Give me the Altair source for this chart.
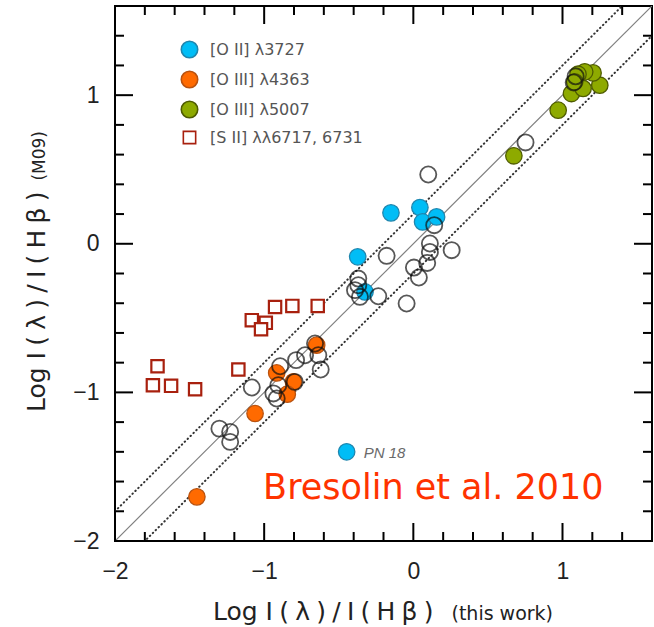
import altair as alt
import pandas as pd

# ---- emission-line ratios: Log I(lambda)/I(Hbeta), this work (x) vs M09 (y) ----
series_names = ["[O II] λ3727", "[O III] λ4363", "[O III] λ5007", "[S II] λλ6717, 6731"]

oii_x = [-0.150, 0.044, 0.062, 0.156, -0.373, -0.324, -0.447]
oii_y = [0.208, 0.244, 0.147, 0.181, -0.088, -0.324, -1.400]

oiii4363_x = [-0.648, -0.916, -0.804, -0.845, -1.061, -1.451]
oiii4363_y = [-0.682, -0.869, -0.929, -1.012, -1.142, -1.703]

oiii5007_x = [0.674, 0.971, 1.060, 1.138, 1.250, 1.205, 1.149, 1.104, 1.082]
oiii5007_y = [0.592, 0.899, 1.011, 1.045, 1.067, 1.150, 1.157, 1.141, 1.090]

sii_x = [-0.927, -0.811, -0.641, -1.083, -0.989, -1.021, -1.715, -1.173, -1.746, -1.624, -1.463]
sii_y = [-0.425, -0.418, -0.418, -0.514, -0.532, -0.575, -0.824, -0.846, -0.952, -0.956, -0.979]

# remaining lines (open circles)
other_x = [0.752, 0.100, 0.140, 0.111, 0.111, 0.093, 0.257, 0.004, 0.037, -0.179,
           -0.235, -0.045, -0.369, -0.369, -0.391, -0.358, -0.659, -0.637, -0.726, -0.786,
           -0.621, -0.893, -1.083, -0.905, -0.795, -0.938, -0.916, -1.300, -1.228, -1.228,
           1.088, 1.075]
other_y = [0.682, 0.466, 0.125, 0.002, -0.055, -0.129, -0.043, -0.160, -0.227, -0.081,
           -0.353, -0.402, -0.234, -0.279, -0.312, -0.357, -0.671, -0.750, -0.750, -0.783,
           -0.846, -0.824, -0.967, -0.952, -0.929, -1.007, -1.041, -1.244, -1.266, -1.333,
           1.127, 1.085]

# one-to-one relation and +/-0.2 dex band
line_offsets = [0.0, 0.2, -0.2]
line_styles = ["solid", "dotted", "dotted"]
line_ends = [-2.0, 1.6]

# labelled object and citation
note_x = [-0.447]
note_y = [-1.400]
note_text = ["PN 18"]
cite_x = [-1.007]
cite_y = [-1.72]
cite_text = ["Bresolin et al. 2010"]

# axis titles (quantity, then source in smaller type)
SP = "\u2005"  # four-per-em space for the wide plotter-style lettering
quantity = "Log  " + SP.join(list("I(λ)/I(Hβ)"))
x_source = "(this work)"
y_source = "(M09)"

# axis ticks
major_ticks = [-2, -1, 0, 1]
minor_ticks = [-1.8, -1.6, -1.4, -1.2, -0.8, -0.6, -0.4, -0.2,
               0.2, 0.4, 0.6, 0.8, 1.2, 1.4]

# ---- tables ----
rows = []
for name, xs_, ys_ in zip(series_names,
                          [oii_x, oiii4363_x, oiii5007_x, sii_x],
                          [oii_y, oiii4363_y, oiii5007_y, sii_y]):
    rows += [{"x": a, "y": b, "line": name} for a, b in zip(xs_, ys_)]
points = pd.DataFrame(rows)
others = pd.DataFrame({"x": other_x, "y": other_y})
lines = pd.DataFrame({
    "x": [line_ends[0]] * 3,
    "x2": [line_ends[1]] * 3,
    "y": [line_ends[0] + o for o in line_offsets],
    "y2": [line_ends[1] + o for o in line_offsets],
    "style": line_styles,
})
notes = pd.DataFrame({"x": note_x, "y": note_y, "t": note_text})
cite = pd.DataFrame({"x": cite_x, "y": cite_y, "t": cite_text})
majors = pd.DataFrame({"v": major_ticks})
minors = pd.DataFrame({"v": minor_ticks})

W, H = 537, 535
FONT = "Liberation Sans"
TFONT = "DejaVu Sans"
MAJ, MIN = 18, 9

xs = alt.Scale(domain=[-2, 1.6], nice=False, zero=False)
ys = alt.Scale(domain=[-2, 1.6], nice=False, zero=False)
xaxis = alt.Axis(values=major_ticks, ticks=False, domain=False, grid=False, title=None,
                 labelFont=FONT, labelFontSize=23, labelColor="#222", labelPadding=19,
                 labelFlush=False)
yaxis = alt.Axis(values=major_ticks, ticks=False, domain=False, grid=False, title=None,
                 labelFont=FONT, labelFontSize=23, labelColor="#222", labelPadding=16,
                 labelFlush=False)


def X(f):
    return alt.X(f, type="quantitative", scale=xs, axis=xaxis)


def Y(f):
    return alt.Y(f, type="quantitative", scale=ys, axis=yaxis)


base_lines = alt.Chart(lines).encode(x=X("x"), y=Y("y"), x2="x2", y2="y2")
solid = base_lines.transform_filter(alt.datum.style == "solid").mark_rule(
    color="#808080", strokeWidth=1.2, clip=True)
dotted = base_lines.transform_filter(alt.datum.style == "dotted").mark_rule(
    color="#333333", strokeWidth=2, strokeDash=[0.5, 3.6], strokeCap="round", clip=True)

SQUARE = "M-0.75,-0.75H0.75V0.75H-0.75Z"
fill_range = ["#00BDF6", "#FF6A00", "#8EAA00", "#ffffff"]
stroke_range = ["#1F86AE", "#B9520F", "#4F5C00", "#A8200E"]
shape_range = ["circle", "circle", "circle", SQUARE]
SYM = 270

legend = alt.Legend(orient="none", legendX=65, legendY=34, title=None,
                    labelFont=TFONT, labelFontSize=16, labelColor="#555",
                    rowPadding=7, labelOffset=11, padding=0, symbolStrokeWidth=1.6,
                    symbolSize=SYM)
dom = series_names
marked = alt.Chart(points).mark_point(size=SYM, opacity=1).encode(
    x=X("x"), y=Y("y"),
    fill=alt.Fill("line:N", scale=alt.Scale(domain=dom, range=fill_range), legend=legend),
    stroke=alt.Stroke("line:N", scale=alt.Scale(domain=dom, range=stroke_range), legend=legend),
    shape=alt.Shape("line:N", scale=alt.Scale(domain=dom, range=shape_range), legend=legend),
    strokeWidth=alt.condition(alt.datum.line == series_names[3], alt.value(2.2), alt.value(1.3)),
)

open_pts = alt.Chart(others).mark_point(shape="circle", size=260, filled=False,
                                        color="#111111", strokeWidth=1.8).encode(
    x=X("x"), y=Y("y"))

note = alt.Chart(notes).mark_text(align="left", baseline="middle", dx=17, dy=1,
                                  font=FONT, fontSize=15, fontStyle="italic",
                                  color="#6a6a6a").encode(x=X("x"), y=Y("y"), text="t:N")
citation = alt.Chart(cite).mark_text(align="left", baseline="alphabetic",
                                     font=TFONT, fontSize=35,
                                     color="#FF3300").encode(x=X("x"), y=Y("y"), text="t:N")

# axis titles drawn as text so the source can be set in smaller type
def label(text, size, align, px, py, angle=0):
    return alt.Chart(pd.DataFrame({"t": [text]})).mark_text(
        font=TFONT, fontSize=size, color="#222", align=align, baseline="alphabetic",
        angle=angle).encode(text="t:N", x=alt.value(px), y=alt.value(py))


titles = [
    label(quantity, 25, "left", 98, 614),
    label(x_source, 19, "right", 438, 614),
    label(quantity, 25, "left", -70, 406, angle=270),
    label(y_source, 17, "right", -70, 125, angle=270),
]

# inward ticks on all four sides
def ticks(df, length, width):
    bottom = alt.Chart(df).mark_rule(color="black", strokeWidth=width).encode(
        x=X("v"), y=alt.value(H), y2=alt.value(H - length))
    top = alt.Chart(df).mark_rule(color="black", strokeWidth=width).encode(
        x=X("v"), y=alt.value(0), y2=alt.value(length))
    left = alt.Chart(df).mark_rule(color="black", strokeWidth=width).encode(
        y=Y("v"), x=alt.value(0), x2=alt.value(length))
    right = alt.Chart(df).mark_rule(color="black", strokeWidth=width).encode(
        y=Y("v"), x=alt.value(W), x2=alt.value(W - length))
    return [bottom, top, left, right]


layers = ([solid, dotted, marked, open_pts, note, citation] + titles
          + ticks(majors, MAJ, 2) + ticks(minors, MIN, 2))

chart = alt.layer(*layers).properties(
    width=W, height=H,
    autosize=alt.AutoSizeParams(type="none"),
    padding={"left": 115, "top": 6, "right": 2, "bottom": 86},
    background="white",
).configure_view(stroke="black", strokeWidth=2)

chart.save("out.html", embed_options={"renderer": "svg", "actions": False})
